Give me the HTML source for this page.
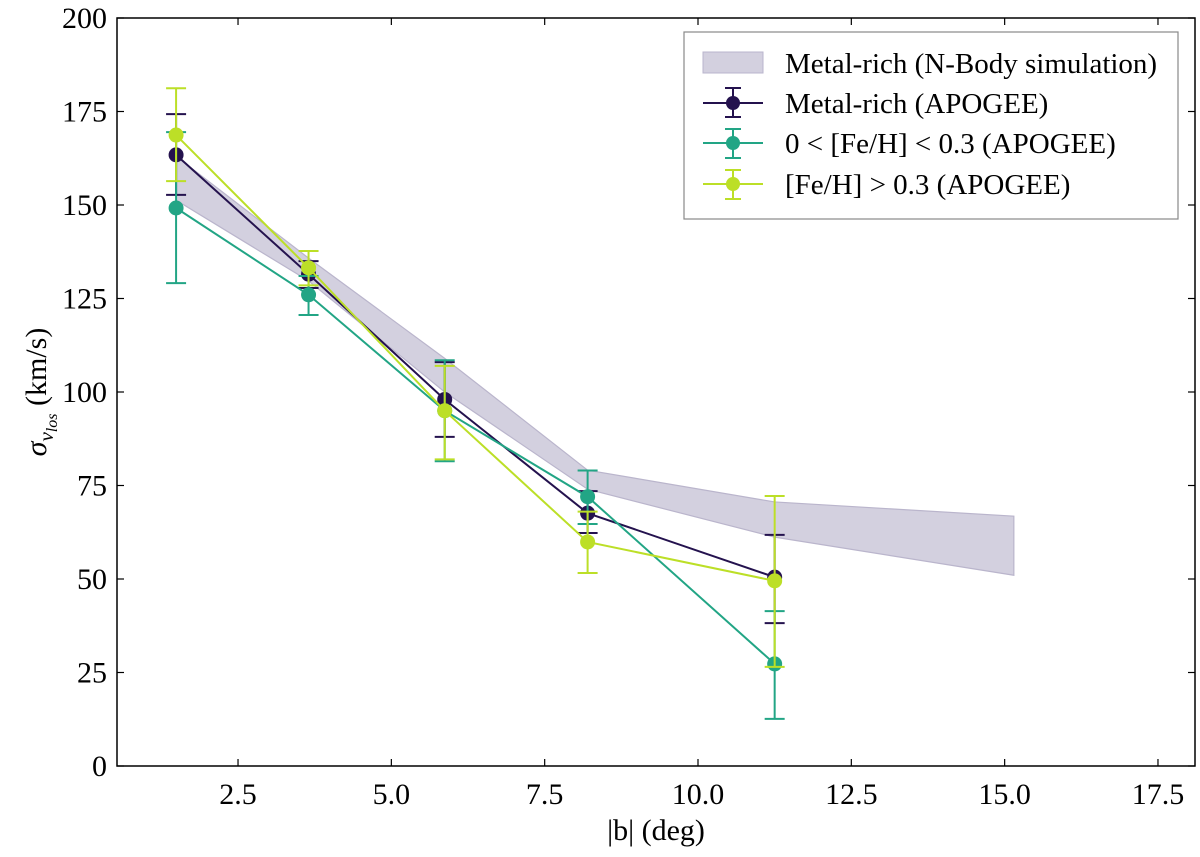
<!DOCTYPE html>
<html><head><meta charset="utf-8"><style>
html,body{margin:0;padding:0;background:#fff;}
svg{display:block;font-family:"Liberation Serif",serif;}
</style></head><body>
<svg id="chart" width="1200" height="857" viewBox="0 0 1200 857"></svg>
<script>
const xs = [1.49, 3.65, 5.87, 8.2, 11.25];
const bandX = [1.49, 3.65, 5.87, 8.2, 11.25, 15.15];
const bandUpper = [163, 135.8, 109, 79.1, 70.6, 66.8];
const bandLower = [151.3, 129.7, 100, 74, 61.2, 51];
const mrY = [163.4, 131.5, 98, 67.6, 50.5];
const mrHi = [174.3, 135, 108, 73.5, 61.8];
const mrLo = [152.7, 127.8, 88, 62.3, 38.2];
const midY = [149.2, 126, 95, 72, 27.3];
const midHi = [169.5, 131, 108.5, 79, 41.4];
const midLo = [129.1, 120.6, 81.5, 64.7, 12.6];
const hiY = [168.7, 133.2, 95, 59.9, 49.5];
const hiHi = [181.2, 137.7, 107, 68, 72.2];
const hiLo = [156.4, 128.5, 82, 51.6, 26.5];
const xTicks = [2.5, 5.0, 7.5, 10.0, 12.5, 15.0, 17.5];
const yTicks = [0, 25, 50, 75, 100, 125, 150, 175, 200];

const L=117,R=1195,T=18,B=766;
const X0=84.7, XS=61.33;
function sx(v){return X0+v*XS;}
function sy(v){return B-(v/200)*(B-T);}
const NS="http://www.w3.org/2000/svg";
const svg=document.getElementById('chart');
function mk(tag,attrs,parent){const e=document.createElementNS(NS,tag);for(const k in attrs)e.setAttribute(k,attrs[k]);(parent||svg).appendChild(e);return e;}

let pts=[];
bandX.forEach((x,i)=>pts.push(sx(x)+','+sy(bandUpper[i])));
for(let i=bandX.length-1;i>=0;i--)pts.push(sx(bandX[i])+','+sy(bandLower[i]));
const band=mk('polygon',{points:pts.join(' '),fill:'#d3d0df',stroke:'#bab5cc','stroke-width':1.2});



function series(name,color,ys,his,los){
  const g=mk('g',{});
  
  
  mk('polyline',{points:xs.map((x,i)=>sx(x)+','+sy(ys[i])).join(' '),fill:'none',stroke:color,'stroke-width':2},g);
  xs.forEach((x,i)=>{
    const cx=sx(x);
    mk('line',{x1:cx,x2:cx,y1:sy(his[i]),y2:sy(los[i]),stroke:color,'stroke-width':2},g);
    mk('line',{x1:cx-10,x2:cx+10,y1:sy(his[i]),y2:sy(his[i]),stroke:color,'stroke-width':2},g);
    mk('line',{x1:cx-10,x2:cx+10,y1:sy(los[i]),y2:sy(los[i]),stroke:color,'stroke-width':2},g);
    const c=mk('circle',{cx:cx,cy:sy(ys[i]),r:7.5,fill:color},g);
    
    
  });
}
series('metal-rich-series','#24124e',mrY,mrHi,mrLo);
series('mid-feh-series','#22a585',midY,midHi,midLo);
series('high-feh-series','#bcdf27',hiY,hiHi,hiLo);

const frame=mk('rect',{x:L,y:T,width:R-L,height:B-T,fill:'none',stroke:'#000','stroke-width':1.5});



xTicks.forEach(v=>{
  const x=sx(v);
  mk('line',{x1:x,x2:x,y1:B,y2:B-7,stroke:'#000','stroke-width':1.2});
  mk('line',{x1:x,x2:x,y1:T,y2:T+7,stroke:'#000','stroke-width':1.2});
  const t=mk('text',{x:x,y:B+38,'font-size':30,'text-anchor':'middle'});
  t.textContent=v.toFixed(1);
  
  
});
yTicks.forEach(v=>{
  const y=sy(v);
  mk('line',{x1:L,x2:L+7,y1:y,y2:y,stroke:'#000','stroke-width':1.2});
  mk('line',{x1:R,x2:R-7,y1:y,y2:y,stroke:'#000','stroke-width':1.2});
  const t=mk('text',{x:L-10,y:y+10,'font-size':30,'text-anchor':'end'});
  t.textContent=v;
  
  
});
</script>
<svg style="position:absolute;left:0;top:0" width="1200" height="857">
  <text x="656" y="840" font-size="30" text-anchor="middle" font-family="Liberation Serif, serif">|b| (deg)</text>
  <text transform="translate(46,392) rotate(-90)" font-size="30" text-anchor="middle" font-family="Liberation Serif, serif"><tspan font-style="italic">σ</tspan><tspan font-style="italic" font-size="21" dy="7">v</tspan><tspan font-style="italic" font-size="16" dy="4">los</tspan><tspan dy="-11"> (km/s)</tspan></text>
  <g font-family="Liberation Serif, serif" font-size="29">
    <rect x="684" y="32" width="494" height="187" fill="#fff" stroke="#888" stroke-width="1.2"/>
    <g>
      <rect x="703" y="52" width="60" height="21" fill="#d3d0df" stroke="#bab5cc"/>
      <text x="785" y="73">Metal-rich (N-Body simulation)</text>
    </g>
    <g stroke="#24124e" stroke-width="2">
      <line x1="703" x2="763" y1="103" y2="103"/><line x1="733" x2="733" y1="88" y2="117"/>
      <line x1="725" x2="741" y1="88" y2="88"/><line x1="725" x2="741" y1="117" y2="117"/>
      <circle cx="733" cy="103" r="7" fill="#24124e" stroke="none"/>
      <text x="785" y="113" stroke="none" fill="#000">Metal-rich (APOGEE)</text>
    </g>
    <g stroke="#22a585" stroke-width="2">
      <line x1="703" x2="763" y1="143" y2="143"/><line x1="733" x2="733" y1="129" y2="158"/>
      <line x1="725" x2="741" y1="129" y2="129"/><line x1="725" x2="741" y1="158" y2="158"/>
      <circle cx="733" cy="143" r="7" fill="#22a585" stroke="none"/>
      <text x="785" y="153" stroke="none" fill="#000">0 &lt; [Fe/H] &lt; 0.3 (APOGEE)</text>
    </g>
    <g stroke="#bcdf27" stroke-width="2">
      <line x1="703" x2="763" y1="184" y2="184"/><line x1="733" x2="733" y1="170" y2="199"/>
      <line x1="725" x2="741" y1="170" y2="170"/><line x1="725" x2="741" y1="199" y2="199"/>
      <circle cx="733" cy="184" r="7" fill="#bcdf27" stroke="none"/>
      <text x="785" y="194" stroke="none" fill="#000">[Fe/H] &gt; 0.3 (APOGEE)</text>
    </g>
  </g>
</svg>
</body></html>
